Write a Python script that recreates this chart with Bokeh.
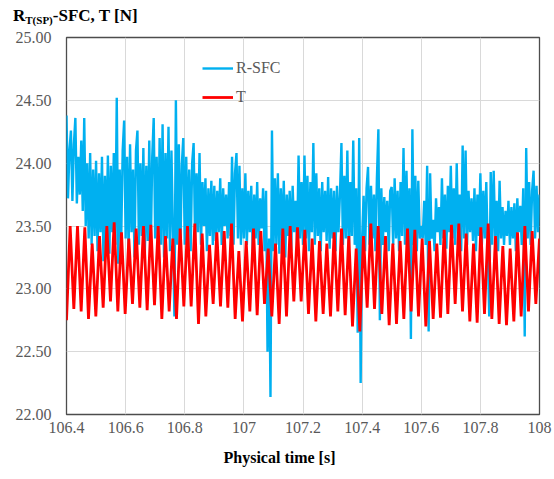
import numpy as np
from bokeh.plotting import figure
from bokeh.layouts import column
from bokeh.models import Range1d, FixedTicker, Legend, LegendItem, Title, Div
from bokeh.embed import file_html
from bokeh.resources import INLINE

# ---------------- data ----------------
x_ticks = [106.4, 106.6, 106.8, 107.0, 107.2, 107.4, 107.6, 107.8, 108.0]
x_tick_labels = ["106.4", "106.6", "106.8", "107", "107.2", "107.4", "107.6", "107.8", "108"]
y_ticks = [22.0, 22.5, 23.0, 23.5, 24.0, 24.5, 25.0]
y_tick_labels = ["22.00", "22.50", "23.00", "23.50", "24.00", "24.50", "25.00"]

t_start = 106.4
t_end = 108.0

r_sfc = [
    24.38, 23.72, 24.10, 24.26, 23.70, 24.15, 24.36, 23.68, 24.05, 23.75,
    24.18, 23.62, 24.36, 23.50, 24.00, 23.40, 24.08, 23.35, 23.95, 23.42,
    24.02, 23.30, 23.92, 23.45, 24.05, 23.22, 23.90, 23.40, 24.06, 23.28,
    23.98, 23.45, 24.08, 23.35, 24.52, 23.20, 23.95, 23.38, 24.10, 24.34,
    23.40, 24.05, 23.30, 24.15, 23.45, 23.95, 23.25, 24.10, 24.26, 23.35,
    24.00, 23.42, 24.12, 23.28, 23.98, 23.38, 24.18, 23.30, 24.05, 24.36,
    23.40, 24.05, 23.30, 24.20, 23.35, 24.31, 23.25, 24.08, 23.40, 24.29,
    23.30, 24.10, 23.45, 22.78, 24.50, 23.35, 24.15, 23.28, 23.98, 24.20,
    23.35, 24.05, 23.40, 23.95, 23.30, 24.00, 24.16, 23.38, 23.92, 23.45,
    24.08, 23.35, 23.85, 23.50, 23.88, 23.30, 23.80, 23.42, 23.86, 23.35,
    23.82, 23.38, 23.78, 23.45, 23.88, 23.35, 23.80, 23.50, 23.75, 23.40,
    23.85, 23.42, 24.05, 23.35, 23.92, 24.08, 23.40, 23.98, 23.35, 23.80,
    23.40, 23.92, 23.35, 23.78, 23.45, 23.82, 23.30, 23.75, 23.40, 23.85,
    23.35, 23.72, 23.48, 23.80, 23.30, 23.78, 22.50, 23.40, 22.14, 24.26,
    23.30, 23.88, 23.35, 23.92, 23.28, 23.80, 23.40, 23.86, 23.25, 23.75,
    23.42, 23.78, 23.30, 23.82, 23.45, 23.70, 23.35, 24.06, 23.40, 23.85,
    23.35, 24.06, 23.40, 23.90, 23.30, 23.85, 23.45, 24.16, 23.35, 23.92,
    23.42, 23.80, 23.30, 23.85, 23.45, 23.78, 23.38, 23.89, 23.32, 23.80,
    23.40, 23.78, 23.30, 23.82, 23.45, 23.75, 24.16, 23.35, 23.90, 23.40,
    24.10, 23.30, 23.85, 23.42, 24.18, 23.35, 23.80, 22.65, 24.20, 22.25,
    23.40, 23.74, 23.30, 23.80, 23.97, 23.35, 23.82, 23.40, 23.75, 23.30,
    23.88, 24.27, 22.75, 23.80, 23.35, 23.73, 23.45, 23.70, 23.30, 23.78,
    23.81, 23.35, 23.88, 23.40, 23.78, 23.30, 23.85, 23.42, 24.12, 23.35,
    23.94, 23.40, 23.80, 22.60, 24.27, 23.35, 23.90, 23.30, 23.86, 23.40,
    23.50, 23.40, 23.70, 23.35, 23.98, 22.66, 23.92, 23.40, 23.55, 23.30,
    23.72, 23.45, 23.65, 23.35, 23.88, 23.40, 23.75, 23.32, 23.82, 23.45,
    23.98, 23.40, 23.80, 23.35, 24.00, 23.42, 23.75, 23.30, 24.14, 23.40,
    24.10, 23.35, 23.78, 23.45, 23.72, 23.38, 23.80, 23.30, 23.75, 23.42,
    23.92, 23.35, 23.78, 23.40, 23.85, 23.30, 22.78, 23.93, 23.35, 23.94,
    23.42, 23.70, 23.30, 23.86, 23.40, 23.65, 23.35, 23.62, 23.42, 23.70,
    23.35, 23.65, 23.40, 23.68, 23.30, 23.72, 23.45, 23.66, 23.35, 23.80,
    22.62, 24.12, 23.40, 23.85, 23.35, 23.78, 23.94, 23.40, 23.82, 23.45,
    23.75,
]

t_force = [
    22.75, 23.50, 22.84, 23.50, 22.82, 23.49, 22.76, 23.36, 22.78, 23.42, 22.85,
    23.50, 22.90, 23.53, 22.82, 23.45, 22.80, 23.40, 22.88, 23.48, 22.85, 23.50,
    22.83, 23.51, 22.87, 23.50, 22.76, 23.42, 22.82, 23.40, 22.76, 23.48,
    22.86, 23.50, 22.86, 23.52, 22.72, 23.44, 22.78, 23.35, 22.88, 23.45,
    22.86, 23.46, 22.85, 23.52, 22.76, 23.30, 22.74, 23.38, 22.82, 23.48,
    22.79, 23.46, 22.88, 23.32, 22.78, 23.36, 22.72, 23.48, 22.78, 23.50, 22.90,
    23.49, 22.90, 23.47, 22.80, 23.40, 22.74, 23.38, 22.80, 23.36, 22.78, 23.45,
    22.82, 23.48, 22.79, 23.42, 22.70, 23.32, 22.66, 23.42, 22.85, 23.52, 22.84,
    23.50, 22.80, 23.42, 22.71, 23.36, 22.72, 23.38, 22.76, 23.48, 22.82, 23.47,
    22.78, 23.40, 22.70, 23.38, 22.76, 23.36, 22.77, 23.47, 22.80, 23.51, 22.88,
    23.52, 22.82, 23.44, 22.74, 23.36, 22.73, 23.49, 22.80, 23.52, 22.76, 23.42,
    22.72, 23.34, 22.71, 23.32, 22.74, 23.45, 22.78, 23.50, 22.82, 23.46, 22.88,
    23.40,
]

# sampling grids of the two recorded series
t_r = np.linspace(t_start, t_end, len(r_sfc))
t_t = np.linspace(t_start, t_end, len(t_force))

# ---------------- figure ----------------
FONT = "Liberation Serif"
GREY = "#595959"

header = Div(
    text="<b>R<sub style='font-size:11px;vertical-align:-3px'>T(SP)</sub>-SFC, T [N]</b>",
    width=552, height=25, margin=(0, 0, 0, 0),
    styles={"font-family": FONT, "font-size": "17px", "line-height": "15px",
            "color": "black", "padding-left": "13px", "padding-top": "8px",
            "box-sizing": "border-box", "overflow": "visible"},
)

p = figure(width=552, height=452, output_backend="svg", toolbar_location=None,
           x_range=Range1d(t_start, t_end), y_range=Range1d(22.0, 25.0),
           min_border_left=66, min_border_right=13, min_border_top=12, min_border_bottom=63)
p.margin = (0, 0, 0, 0)

p.background_fill_color = "white"
p.border_fill_color = None
p.outline_line_color = "#4d4d4d"
p.outline_line_width = 1.3

for ax in (p.xaxis[0], p.yaxis[0]):
    ax.axis_line_color = None
    ax.major_tick_line_color = None
    ax.minor_tick_line_color = None
    ax.major_label_text_font = FONT
    ax.major_label_text_font_size = "16px"
    ax.major_label_text_color = GREY

p.xaxis.ticker = FixedTicker(ticks=x_ticks)
p.xaxis.major_label_overrides = {v: s for v, s in zip(x_ticks, x_tick_labels)}
p.xaxis.major_label_standoff = 1
p.yaxis.ticker = FixedTicker(ticks=y_ticks)
p.yaxis.major_label_overrides = {v: s for v, s in zip(y_ticks, y_tick_labels)}
p.yaxis.major_label_standoff = 9

p.xgrid.grid_line_color = "#d9d9d9"
p.ygrid.grid_line_color = "#d9d9d9"

r1 = p.line(t_r, r_sfc, line_color="#00b0f0", line_width=2.4)
r2 = p.line(t_t, t_force, line_color="#ff0000", line_width=2.8)

legend = Legend(items=[LegendItem(label="R-SFC", renderers=[r1]),
                       LegendItem(label="T", renderers=[r2])],
                location=(136, 307), orientation="vertical",
                glyph_width=31, glyph_height=20, label_height=20,
                label_standoff=3, spacing=9, padding=0, margin=0,
                label_text_font=FONT, label_text_font_size="16px",
                label_text_color=GREY, border_line_color=None,
                background_fill_alpha=0)
p.add_layout(legend)

p.add_layout(Title(text="Physical time [s]", align="left", offset=157,
                   text_font=FONT, text_font_style="bold", text_font_size="16px",
                   text_color="black", standoff=22), "below")

layout = column(header, p, spacing=0)
layout.margin = (0, 0, 0, 0)

open("out.html", "w").write(file_html(layout, INLINE))
